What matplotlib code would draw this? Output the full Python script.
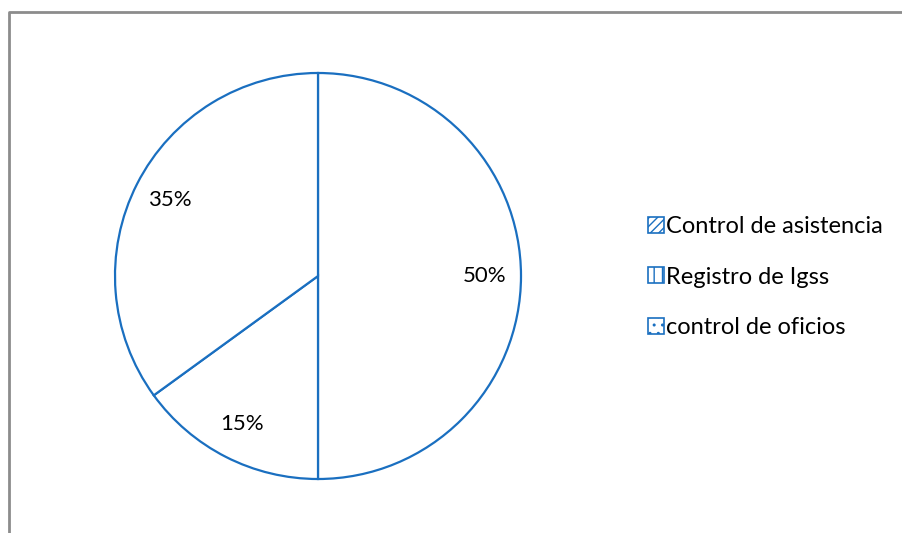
import matplotlib.pyplot as plt
from matplotlib.patches import Patch
from matplotlib.lines import Line2D

# Datos del gráfico
categorias = ['Control de asistencia', 'Registro de Igss', 'control de oficios']
porcentajes = [50, 15, 35]
sombreados = ['////', '||', '..']

azul = '#1a6fc0'
W, H = 903, 533

plt.rcParams['font.family'] = ['Lato', 'DejaVu Sans']
plt.rcParams['hatch.color'] = azul
plt.rcParams['hatch.linewidth'] = 1.0

fig = plt.figure(figsize=(W / 100, H / 100), dpi=100)

# marco del área del gráfico (sólo borde superior e izquierdo visibles)
fig.add_artist(Line2D([9 / W, 9 / W, 1.0], [0.0, 1 - 12 / H, 1 - 12 / H],
                      transform=fig.transFigure, color='#8c8c8c', lw=2))

cx, cy, r = 318, 276, 203
ax = fig.add_axes([(cx - r) / W, (H - cy - r) / H, 2 * r / W, 2 * r / H])
ax.pie(porcentajes, startangle=90, counterclock=False,
       colors=['white'] * 3,
       wedgeprops=dict(edgecolor=azul, linewidth=1.6),
       autopct='%d%%', pctdistance=0.82,
       textprops=dict(fontsize=16, color='black'))
ax.set_xlim(-1, 1)
ax.set_ylim(-1, 1)
ax.set_aspect('equal')
ax.axis('off')

handles = [Patch(facecolor='white', edgecolor=azul, hatch=h, lw=1.2)
           for h in sombreados]
fig.legend(handles, categorias, loc='center left',
           bbox_to_anchor=(639 / W, 1 - 277 / H), frameon=False,
           fontsize=17, handlelength=0.65, handleheight=0.65,
           handletextpad=0.1, labelspacing=1.25, borderaxespad=0)

fig.savefig('out.png', dpi=100)
